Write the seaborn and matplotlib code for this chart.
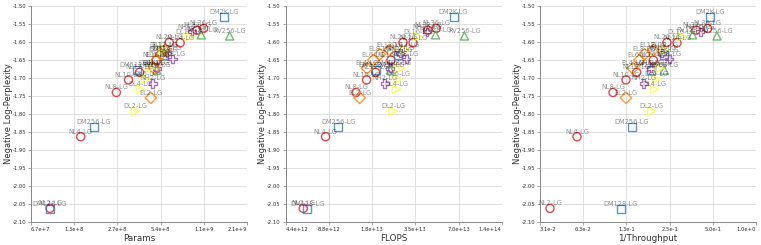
import matplotlib
matplotlib.use('Agg')
import matplotlib.pyplot as plt
import seaborn as sns
import pandas as pd
import numpy as np

# model families: name suffixes, params (M), FLOPS (1e12), 1/throughput, neg log-perplexity
nl_names = ['NL2', 'NL4', 'NL8', 'NL10', 'NL12', 'NL16', 'NL20', 'NL24', 'NL32', 'NL36']
nl_params = [91, 149, 264, 321, 383, 500, 616, 735, 962, 1070]
nl_flops = [5.83, 8.34, 13.6, 16.1, 18.6, 23.8, 28.9, 33.9, 43.1, 49.2]
nl_inv_tp = [0.0367, 0.0566, 0.1008, 0.1242, 0.1474, 0.1925, 0.2397, 0.2815, 0.3818, 0.4604]
nl_nlp = [-2.063, -1.864, -1.741, -1.706, -1.685, -1.651, -1.602, -1.603, -1.568, -1.563]

dm_names = ['DM128', 'DM256', 'DM512', 'DM1K', 'DM2K']
dm_params = [91, 184, 367, 563, 1476]
dm_flops = [6.22, 10.2, 18.6, 26.5, 65.0]
dm_inv_tp = [0.1146, 0.1360, 0.1854, 0.2297, 0.4780]
dm_nlp = [-2.065, -1.836, -1.679, -1.637, -1.531]

rv_names = ['RV64', 'RV128', 'RV256']
rv_params = [505, 1031, 1626]
rv_flops = [23.6, 48.7, 77.4]
rv_inv_tp = [0.2297, 0.3620, 0.5348]
rv_nlp = [-1.679, -1.581, -1.584]

nh_names = ['NH2', 'NH4', 'NH8', 'NH12', 'NH16']
nh_params = [472, 505, 650, 594, 887]
nh_flops = [21.5, 23.6, 30.5, 27.7, 42.4]
nh_inv_tp = [0.1649, 0.1854, 0.2490, 0.2201, 0.4093]
nh_nlp = [-1.716, -1.674, -1.648, -1.632, -1.572]

el_names = ['EL2', 'EL4', 'EL6', 'EL8', 'EL12']
el_params = [459, 485, 505, 539, 578]
el_flops = [14.4, 16.2, 17.9, 19.9, 23.3]
el_inv_tp = [0.1242, 0.1382, 0.1538, 0.1667, 0.1925]
el_nlp = [-1.756, -1.674, -1.651, -1.635, -1.623]

dl_names = ['DL2', 'DL4', 'DL6', 'DL8', 'DL12', 'DL16']
dl_params = [361, 387, 424, 454, 563, 850]
dl_flops = [24.6, 26.0, 26.7, 27.4, 30.0, 36.7]
dl_inv_tp = [0.1875, 0.1957, 0.2032, 0.2120, 0.2297, 0.3033]
dl_nlp = [-1.793, -1.732, -1.704, -1.674, -1.623, -1.586]

families = ['NL', 'DM', 'RV', 'NH', 'EL', 'DL']
family_markers = {'NL': 'o', 'DM': 's', 'RV': '^', 'NH': 'P', 'EL': 'D', 'DL': '>'}

y_ticks = [-2.10, -2.05, -2.00, -1.95, -1.90, -1.85, -1.80, -1.75, -1.70, -1.65, -1.60, -1.55, -1.50]


def build_frame():
    rows = []
    data = {
        'NL': (nl_names, nl_params, nl_flops, nl_inv_tp, nl_nlp),
        'DM': (dm_names, dm_params, dm_flops, dm_inv_tp, dm_nlp),
        'RV': (rv_names, rv_params, rv_flops, rv_inv_tp, rv_nlp),
        'NH': (nh_names, nh_params, nh_flops, nh_inv_tp, nh_nlp),
        'EL': (el_names, el_params, el_flops, el_inv_tp, el_nlp),
        'DL': (dl_names, dl_params, dl_flops, dl_inv_tp, dl_nlp),
    }
    for fam, (names, params, flops, inv, nlp) in data.items():
        for n, p, f, t, v in zip(names, params, flops, inv, nlp):
            rows.append({'family': fam, 'label': n + '-LG', 'Params': p * 1e6,
                         'FLOPS': f * 1e12, '1/Throughput': t, 'nlp': v})
    return pd.DataFrame(rows)


def fmt_exp(v):
    m, e = f"{v * (1 + 1e-9):.1e}".split('e')
    return f"{m}e{int(e):+d}"


df = build_frame()
palette = dict(zip(families, sns.color_palette('Set1', 6)))
# Set1 order: red, blue, green, purple, orange, yellow

plt.rcParams['axes.unicode_minus'] = False
plt.rcParams['font.family'] = 'DejaVu Sans'

fig = plt.figure(figsize=(7.61, 2.45), dpi=100)
panels = [
    ('Params', 31, range(26, 32)),
    ('FLOPS', 285.7, range(42, 48)),
    ('1/Throughput', 540, range(-5, 1)),
]

for col, left_px, exps in panels:
    ax = fig.add_axes([left_px / 761, 1 - 221.7 / 245, 216 / 761, 216 / 245])
    sns.scatterplot(data=df, x=col, y='nlp', hue='family', style='family',
                    palette=palette, markers=family_markers, hue_order=families,
                    style_order=families, s=34, linewidth=1.0, legend=False, ax=ax,
                    zorder=3)
    for coll in ax.collections:
        fc = coll.get_facecolors()
        fc[:, 3] = 0.8
        coll.set_edgecolors(fc)
        coll.set_facecolors('none')

    for _, r in df.iterrows():
        ax.annotate(r['label'], (r[col], r['nlp']), xytext=(0, 2.2),
                    textcoords='offset points', ha='center', va='baseline',
                    fontsize=4.8, color='black', alpha=0.42, zorder=4)

    ax.set_xscale('log', base=2)
    ticks = [2.0 ** k for k in exps]
    ax.set_xlim(ticks[0], ticks[-1])
    ax.set_xticks(ticks)
    ax.set_xticklabels([fmt_exp(t) for t in ticks])
    ax.xaxis.set_minor_locator(matplotlib.ticker.NullLocator())
    labels = ax.get_xticklabels()
    labels[0].set_ha('left')
    labels[-1].set_ha('right')

    ax.set_ylim(-2.10, -1.50)
    ax.set_yticks(y_ticks)
    ax.set_yticklabels([f"{v:.2f}" for v in y_ticks])

    ax.grid(True, color='#dddddd', linewidth=0.6)
    ax.set_axisbelow(True)
    for side in ['top', 'right']:
        ax.spines[side].set_visible(False)
    for side in ['left', 'bottom']:
        ax.spines[side].set_color('#888888')
        ax.spines[side].set_linewidth(0.7)
    ax.tick_params(length=2, width=0.5, color='#888888', labelsize=3.8,
                   labelcolor='#333333', pad=1.5)

    ax.set_xlabel(col, fontsize=6.3, color='#333333', labelpad=2)
    ax.set_ylabel('Negative Log-Perplexity', fontsize=6.0, color='#333333')
    ax.yaxis.set_label_coords(-0.085, 0.5)

fig.savefig('out.png', dpi=100)
